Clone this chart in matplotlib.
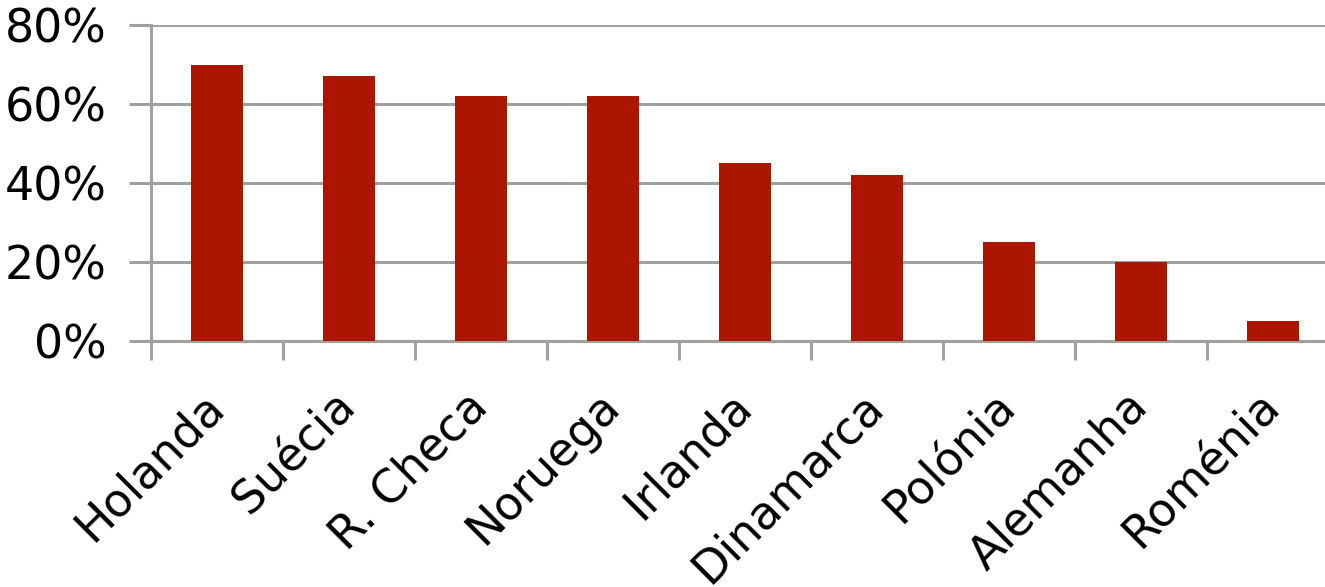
import numpy as np
import matplotlib.pyplot as plt
from matplotlib.ticker import FuncFormatter

paises = ["Holanda", "Suécia", "R. Checa", "Noruega", "Irlanda",
          "Dinamarca", "Polónia", "Alemanha", "Roménia"]
valores = [70, 67, 62, 62, 45, 42, 25, 20, 5]

cor_barra = "#AA1600"
cinza = "#A0A0A0"

fig = plt.figure(figsize=(13.25, 5.87), dpi=100)
# eixo estende ligeiramente para la da margem direita (como no original)
ax = fig.add_axes([151/1325, 1 - 341/587, (1339-151)/1325, (341-25)/587])

x = np.arange(len(paises))
ax.bar(x, valores, width=0.4, color=cor_barra, zorder=3)

ax.set_xlim(-0.5, len(paises) - 0.5)
ax.set_ylim(0, 80)
ax.set_yticks([0, 20, 40, 60, 80])
ax.yaxis.set_major_formatter(FuncFormatter(lambda v, p: f"{v:.0f}%"))

ax.grid(axis="y", color=cinza, linewidth=2.2, zorder=0)
for s in ["top", "right"]:
    ax.spines[s].set_visible(False)
for s in ["left", "bottom"]:
    ax.spines[s].set_color(cinza)
    ax.spines[s].set_linewidth(2.2)

ax.set_xticks(x - 0.5, minor=False)
ax.set_xticklabels([])
ax.set_xticks(x, minor=True)
ax.set_xticklabels(paises, minor=True, rotation=45, ha="right",
                   va="center", rotation_mode="anchor", fontsize=33)
ax.tick_params(axis="x", which="major", length=14, width=2.2, color=cinza)
ax.tick_params(axis="x", which="minor", length=0, pad=42)
ax.tick_params(axis="y", length=16, width=2.2, color=cinza, labelsize=33, pad=16)

fig.savefig("out.png", dpi=100)
